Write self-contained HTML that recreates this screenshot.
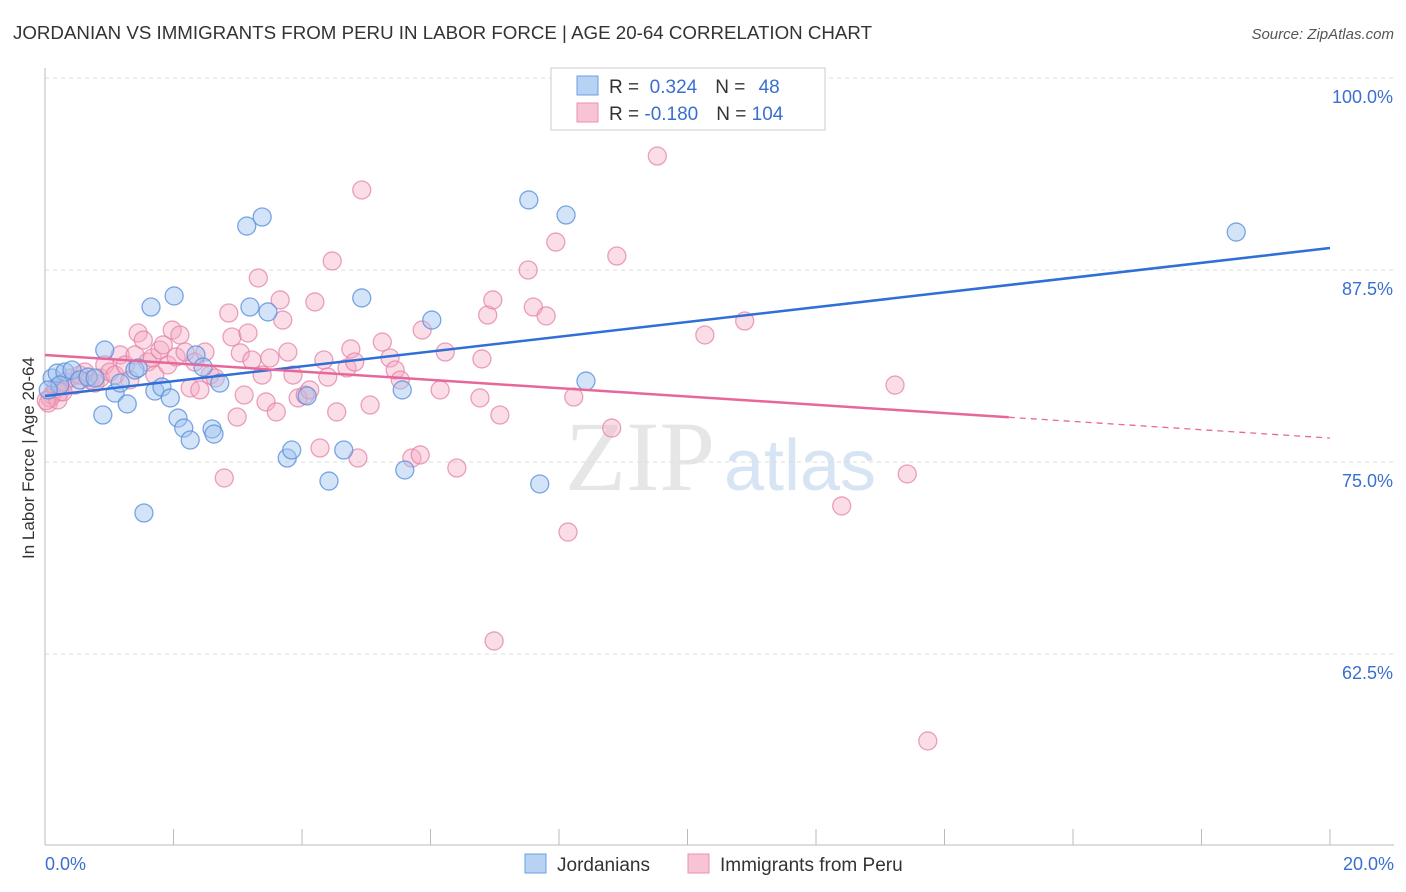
<!DOCTYPE html>
<html><head><meta charset="utf-8">
<style>
body{margin:0;background:#fff;font-family:"Liberation Sans",sans-serif;}
#wrap{position:relative;width:1406px;height:892px;overflow:hidden;}
</style></head>
<body>
<div id="wrap">
<svg id="svg" width="1406" height="892" xmlns="http://www.w3.org/2000/svg">
<text x="13" y="39" font-size="18" fill="#333" textLength="859" lengthAdjust="spacingAndGlyphs">JORDANIAN VS IMMIGRANTS FROM PERU IN LABOR FORCE | AGE 20-64 CORRELATION CHART</text>
<text x="1394" y="39" font-size="15" fill="#555" font-style="italic" text-anchor="end">Source: ZipAtlas.com</text>
<text x="34" y="458" font-size="17" fill="#333" text-anchor="middle" transform="rotate(-90 34 458)">In Labor Force | Age 20-64</text>
<text x="640" y="490" font-size="100" fill="#e6e6e6" font-family="Liberation Serif,serif" text-anchor="middle">ZIP</text>
<text x="800" y="490" font-size="72" fill="#d6e4f4" text-anchor="middle">atlas</text>
<g id="grid"></g><g id="axes"></g><g id="pts"></g><g id="lines"></g>
<g>
<rect x="551" y="68" width="274" height="62" fill="#fff" stroke="#ccc"/>
<rect x="577" y="76" width="21" height="19" fill="#b8d2f4" stroke="#6a9fe0"/>
<rect x="577" y="103" width="21" height="19" fill="#f8c4d4" stroke="#e890b0"/>
<text x="609" y="93" font-size="19" fill="#333">R = <tspan fill="#3a6fd0">&#160;0.324</tspan><tspan dx="18">N = </tspan><tspan fill="#3a6fd0" dx="8">48</tspan></text>
<text x="609" y="120" font-size="19" fill="#333">R = <tspan fill="#3a6fd0">-0.180</tspan><tspan dx="18">N = </tspan><tspan fill="#3a6fd0">104</tspan></text>
</g>
<g>
<rect x="525" y="854" width="21" height="19" fill="#b8d2f4" stroke="#6a9fe0"/>
<text x="557" y="871" font-size="19" fill="#333">Jordanians</text>
<rect x="688" y="854" width="21" height="19" fill="#f8c4d4" stroke="#e890b0"/>
<text x="720" y="871" font-size="19" fill="#333">Immigrants from Peru</text>
</g>
</svg>
</div>
<script>
const yTicks=[100,87.5,75,62.5];
const yTickLabels=["100.0%","87.5%","75.0%","62.5%"];
const xTicks=[0,2,4,6,8,10,12,14,16,18,20];
const blueX=[0.11,0.19,0.31,0.42,0.54,0.67,0.78,0.93,0.90,1.09,1.17,1.28,1.40,1.45,1.54,1.65,1.71,1.82,1.95,2.01,2.07,2.16,2.26,2.35,2.46,2.60,2.63,2.72,3.14,3.19,3.38,3.47,3.77,3.84,4.08,4.42,4.65,4.93,5.56,5.60,6.02,7.53,7.70,8.11,8.42,18.54,0.23,0.05];
const blueY=[80.47,80.79,80.86,80.99,80.34,80.53,80.47,82.29,78.06,79.49,80.14,78.78,80.99,81.12,71.68,85.09,79.62,79.88,79.17,85.81,77.86,77.21,76.43,81.97,81.18,77.15,76.82,80.14,90.36,85.09,90.95,84.77,75.26,75.78,79.30,73.76,75.78,85.68,79.69,74.48,84.24,92.06,73.57,91.08,80.27,89.97,80.01,79.69];
const pinkX=[0.05,0.11,0.17,0.23,0.31,0.39,0.47,0.54,0.62,0.70,0.78,0.86,0.93,1.01,1.09,1.17,1.25,1.32,1.40,1.45,1.53,1.60,1.67,1.71,1.79,1.84,1.91,1.98,2.04,2.10,2.18,2.26,2.33,2.41,2.49,2.57,2.65,2.79,2.86,2.91,2.99,3.04,3.10,3.16,3.22,3.32,3.38,3.44,3.50,3.60,3.66,3.70,3.78,3.86,3.94,4.05,4.12,4.20,4.28,4.34,4.40,4.47,4.54,4.70,4.76,4.82,4.87,4.93,5.06,5.25,5.37,5.45,5.53,5.71,5.84,5.87,6.15,6.23,6.41,6.77,6.80,6.89,6.97,7.08,7.52,7.60,7.80,7.95,8.14,8.23,8.82,8.90,9.53,10.27,10.89,12.40,13.23,13.42,13.74,6.99,0.08,0.20,0.28,0.02];
const pinkY=[78.84,79.36,79.82,79.56,80.21,80.47,80.01,80.66,80.86,80.34,80.14,80.47,81.32,80.86,80.66,81.97,81.32,80.34,81.97,83.40,82.94,81.51,81.77,80.66,82.29,82.62,81.32,83.59,81.84,83.27,82.16,79.82,81.51,79.69,82.16,80.66,80.47,73.96,84.70,83.14,77.93,82.10,79.36,83.40,81.64,86.98,80.66,78.91,81.77,78.26,85.55,84.24,82.16,80.66,79.17,79.36,79.69,85.42,75.91,81.64,80.53,88.09,78.26,81.12,82.36,81.51,75.26,92.71,78.71,82.81,81.77,80.99,80.34,75.26,75.46,83.59,79.69,82.16,74.61,79.17,81.71,84.57,85.55,78.06,87.50,85.09,84.51,89.32,70.44,79.23,77.21,88.41,94.92,83.27,84.18,72.14,80.01,74.22,56.84,63.35,79.17,79.04,79.56,79.0];
const blueLine=[79.3,88.93];
const pinkLine=[81.97,76.56];
const pinkSolidEnd=15;

const X0=45,X1=1330,Y100=78,PXPER=15.36;
const sx=v=>X0+(v/20)*(X1-X0);
const sy=v=>Y100+(100-v)*PXPER;
const NS="http://www.w3.org/2000/svg";
function mk(t,a,p){const e=document.createElementNS(NS,t);for(const k in a)e.setAttribute(k,a[k]);p.appendChild(e);return e;}
const grid=document.getElementById('grid'),axes=document.getElementById('axes'),pts=document.getElementById('pts'),lines=document.getElementById('lines');
yTicks.forEach((v,i)=>{
 const l=mk('line',{x1:X0,x2:1394,y1:sy(v),y2:sy(v),stroke:'#ddd','stroke-dasharray':'4,4'},grid);
 
 
 const t=mk('text',{x:1393,y:sy(v)+25,'font-size':18,fill:'#3a6fd0','text-anchor':'end'},grid);
 t.textContent=yTickLabels[i];
 
 
});
const ax=mk('line',{x1:X0,x2:1394,y1:845,y2:845,stroke:'#bbb'},axes);


const ay=mk('line',{x1:X0,x2:X0,y1:68,y2:845,stroke:'#bbb'},axes);


xTicks.forEach(v=>{
 const l=mk('line',{x1:sx(v),x2:sx(v),y1:829,y2:845,stroke:'#bbb'},axes);
 
 
});
const xl=mk('text',{x:45,y:870,'font-size':18,fill:'#3a6fd0'},axes);xl.textContent='0.0%';


const xr=mk('text',{x:1394,y:870,'font-size':18,fill:'#3a6fd0','text-anchor':'end'},axes);xr.textContent='20.0%';


pinkX.forEach((v,i)=>{
 const c=mk('circle',{cx:sx(v),cy:sy(pinkY[i]),r:9,fill:'rgba(244,170,196,0.4)',stroke:'rgba(228,130,168,0.75)','stroke-width':1.3},pts);
 
 
});
blueX.forEach((v,i)=>{
 const c=mk('circle',{cx:sx(v),cy:sy(blueY[i]),r:9,fill:'rgba(160,196,240,0.45)',stroke:'rgba(90,145,220,0.8)','stroke-width':1.3},pts);
 
 
});
const bl=mk('line',{x1:sx(0),y1:sy(blueLine[0]),x2:sx(20),y2:sy(blueLine[1]),stroke:'#2f6fd6','stroke-width':2.5},lines);


const pAt=x=>pinkLine[0]+(pinkLine[1]-pinkLine[0])*x/20;
const pl=mk('line',{x1:sx(0),y1:sy(pAt(0)),x2:sx(pinkSolidEnd),y2:sy(pAt(pinkSolidEnd)),stroke:'#e8679a','stroke-width':2.5},lines);


const pd=mk('line',{x1:sx(pinkSolidEnd),y1:sy(pAt(pinkSolidEnd)),x2:sx(20),y2:sy(pAt(20)),stroke:'#e8679a','stroke-width':1.3,'stroke-dasharray':'6,5'},lines);


</script>
</body></html>
